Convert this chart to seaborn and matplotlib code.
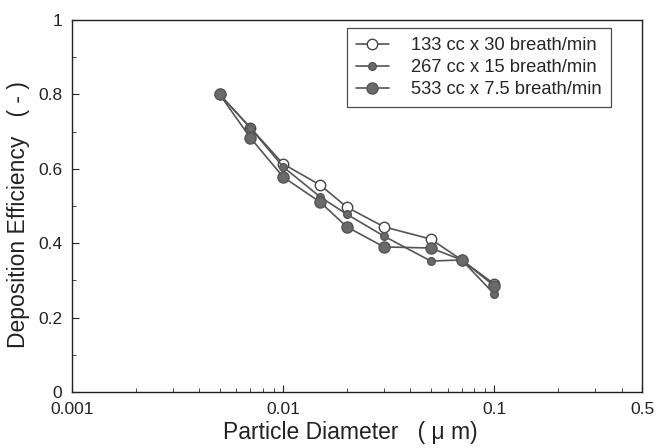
import matplotlib
matplotlib.use("Agg")
import matplotlib.pyplot as plt
import seaborn as sns
import pandas as pd
import numpy as np
from matplotlib.ticker import NullFormatter, MultipleLocator, LogLocator

sns.set_theme(style="white")
plt.rcParams['font.family'] = ['Liberation Sans', 'DejaVu Sans']

diam = [0.005, 0.007, 0.01, 0.015, 0.02, 0.03, 0.05, 0.07, 0.1]
eff_133 = [0.80, 0.71, 0.613, 0.556, 0.497, 0.444, 0.411, 0.355, 0.29]
eff_267 = [0.80, 0.71, 0.605, 0.524, 0.478, 0.419, 0.352, 0.355, 0.263]
eff_533 = [0.80, 0.683, 0.578, 0.510, 0.444, 0.390, 0.387, 0.355, 0.285]
labels = ["133 cc x 30 breath/min", "267 cc x 15 breath/min", "533 cc x 7.5 breath/min"]

df = pd.concat([
    pd.DataFrame({"d": diam, "eff": eff_133, "cond": labels[0]}),
    pd.DataFrame({"d": diam, "eff": eff_267, "cond": labels[1]}),
    pd.DataFrame({"d": diam, "eff": eff_533, "cond": labels[2]}),
])

fig = plt.figure(figsize=(6.71, 4.48), dpi=100)
ax = fig.add_axes([72/671, 1 - 392/448, (642-72)/671, (392-20)/448])

line_c = "#555555"
styles = {
    labels[0]: dict(marker="o", markersize=7.5, markerfacecolor="white", markeredgecolor="#444444"),
    labels[1]: dict(marker="o", markersize=5.5, markerfacecolor="#6a6a6a", markeredgecolor="#555555"),
    labels[2]: dict(marker="o", markersize=8, markerfacecolor="#6a6a6a", markeredgecolor="#555555"),
}
for lab in labels:
    sub = df[df["cond"] == lab]
    sns.lineplot(data=sub, x="d", y="eff", ax=ax, color=line_c, linewidth=1.2,
                 label=lab, markeredgewidth=1.0, **styles[lab])

ax.set_xscale("log")
ax.set_xlim(0.001, 0.5)
ax.set_ylim(0, 1)
ax.set_xticks([0.001, 0.01, 0.1, 0.5])
ax.set_xticklabels(["0.001", "0.01", "0.1", "0.5"])
ax.xaxis.set_minor_locator(LogLocator(base=10, subs=np.arange(2, 10), numticks=20))
ax.xaxis.set_minor_formatter(NullFormatter())
ax.set_yticks([0, 0.2, 0.4, 0.6, 0.8, 1.0])
ax.set_yticklabels(["0", "0.2", "0.4", "0.6", "0.8", "1"])
ax.yaxis.set_minor_locator(MultipleLocator(0.1))

ax.tick_params(axis="both", which="major", direction="in", length=5, width=0.8,
               labelsize=12.5, colors="#222222", pad=7, bottom=True, left=True)
ax.tick_params(axis="both", which="minor", direction="in", length=3, width=0.6,
               bottom=True, left=True)
for s in ax.spines.values():
    s.set_color("#222222")
    s.set_linewidth(1.0)

ax.set_xlabel("Particle Diameter   ( \u03bc m)", fontsize=16.5, color="#222222")
ax.set_ylabel("Deposition Efficiency   ( - )", fontsize=16.5, color="#222222")
ax.xaxis.set_label_coords((350 - 72) / 570, -0.078)
ax.yaxis.set_label_coords((30 - 72) / 570, (392 - 215) / 372)

leg = ax.legend(loc="upper right", bbox_to_anchor=(0.945, 0.978), frameon=True,
                fancybox=False, edgecolor="#222222", fontsize=13.2, handlelength=1.8,
                handletextpad=1.2, borderpad=0.5, labelspacing=0.27, borderaxespad=0)
leg.get_frame().set_linewidth(0.9)

fig.savefig("out.png", dpi=100)
